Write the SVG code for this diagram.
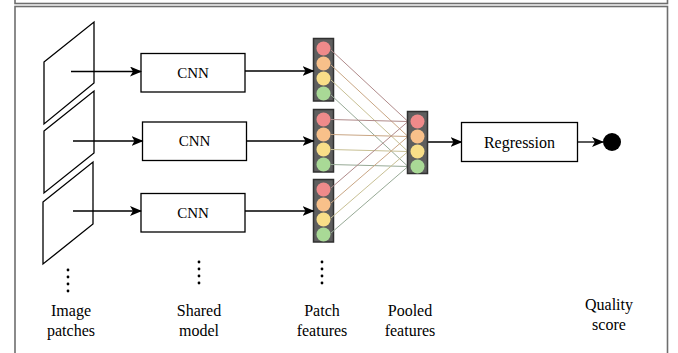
<svg xmlns="http://www.w3.org/2000/svg" width="678" height="353" viewBox="0 0 678 353">
<defs>
<marker id="ah" viewBox="0 0 12 10" refX="11" refY="5" markerWidth="12" markerHeight="10" markerUnits="userSpaceOnUse" orient="auto">
<path d="M0,0 L12,5 L0,10 L3,5 Z" fill="#000"/>
</marker>
</defs>
<style>
.frame{fill:none;stroke:#6e6e6e;stroke-width:1.6}
.patch{fill:#fff;stroke:#000;stroke-width:1.3}
.box{fill:#fff;stroke:#000;stroke-width:1.3}
.arr{fill:none;stroke:#000;stroke-width:1.3;marker-end:url(#ah)}
.t{font-family:"Liberation Serif","Times New Roman",serif;font-size:16px;fill:#000;text-anchor:middle}
.tc{font-family:"Liberation Serif","Times New Roman",serif;font-size:15px;fill:#000;text-anchor:middle}
.stack{fill:#5e5e5e;stroke:#303030;stroke-width:1.5}
.cr{fill:#ef8a8a}.co{fill:#f8c08a}.cy{fill:#f8de88}.cg{fill:#a9d996}
.lr{stroke:#b08a8a;stroke-width:1;fill:none}
.lo{stroke:#c9a684;stroke-width:1;fill:none}
.ly{stroke:#c8c094;stroke-width:1;fill:none}
.lg{stroke:#97aa96;stroke-width:1;fill:none}
.dot{fill:#000}
</style>
<g id="frame">
<rect class="frame" x="15" y="-12" width="652.5" height="15.5"/>
<rect class="frame" x="15" y="6.5" width="652.5" height="360"/>
</g>
<g id="patch1"><polygon class="patch" points="44,62 94,22 94,83 44,124"/></g>
<g id="patch2"><polygon class="patch" points="44,131 94,91 94,153 44,193"/></g>
<g id="patch3"><polygon class="patch" points="43,202 93,162 93,224 43,264"/></g>
<g id="cnn1"><rect class="box" x="141" y="53.5" width="104" height="38.5"/><text class="tc" x="193" y="77.5">CNN</text></g>
<g id="cnn2"><rect class="box" x="142.5" y="122" width="104" height="38.5"/><text class="tc" x="194.5" y="146">CNN</text></g>
<g id="cnn3"><rect class="box" x="141" y="193.5" width="104" height="38.5"/><text class="tc" x="193" y="217.5">CNN</text></g>
<g id="features1">
<rect class="stack" x="313.5" y="38.5" width="20" height="62.5"/>
<circle class="cr" cx="323.5" cy="48.5" r="7"/><circle class="co" cx="323.5" cy="63.5" r="7"/><circle class="cy" cx="323.5" cy="78.5" r="7"/><circle class="cg" cx="323.5" cy="93.5" r="7"/>
</g>
<g id="features2">
<rect class="stack" x="313.5" y="109.5" width="20" height="62.5"/>
<circle class="cr" cx="323.5" cy="119.5" r="7"/><circle class="co" cx="323.5" cy="134.5" r="7"/><circle class="cy" cx="323.5" cy="149.5" r="7"/><circle class="cg" cx="323.5" cy="164.5" r="7"/>
</g>
<g id="features3">
<rect class="stack" x="313.5" y="179.5" width="20" height="62.5"/>
<circle class="cr" cx="323.5" cy="189.5" r="7"/><circle class="co" cx="323.5" cy="204.5" r="7"/><circle class="cy" cx="323.5" cy="219.5" r="7"/><circle class="cg" cx="323.5" cy="234.5" r="7"/>
</g>
<g id="connectors">
<line class="arr" x1="71" y1="71.5" x2="141" y2="71.5"/>
<line class="arr" x1="73" y1="141" x2="142.5" y2="141"/>
<line class="arr" x1="73" y1="211" x2="141" y2="211"/>
<line class="arr" x1="245" y1="71" x2="313.5" y2="71"/>
<line class="arr" x1="246.5" y1="141" x2="313.5" y2="141"/>
<line class="arr" x1="245" y1="211" x2="313.5" y2="211"/>
<line class="lr" x1="331" y1="50" x2="408" y2="121.5"/>
<line class="lo" x1="331" y1="65" x2="408" y2="136.5"/>
<line class="ly" x1="331" y1="80" x2="408" y2="151.5"/>
<line class="lg" x1="331" y1="95" x2="408" y2="166.5"/>
<line class="lr" x1="331" y1="119.5" x2="408" y2="121.5"/>
<line class="lo" x1="331" y1="134.5" x2="408" y2="136.5"/>
<line class="ly" x1="331" y1="149.5" x2="408" y2="151.5"/>
<line class="lg" x1="331" y1="164.5" x2="408" y2="166.5"/>
<line class="lr" x1="331" y1="188" x2="408" y2="121.5"/>
<line class="lo" x1="331" y1="203" x2="408" y2="136.5"/>
<line class="ly" x1="331" y1="218" x2="408" y2="151.5"/>
<line class="lg" x1="331" y1="233" x2="408" y2="166.5"/>
<line class="arr" x1="427.5" y1="142" x2="461.5" y2="142"/>
<line class="arr" x1="577.5" y1="142" x2="603" y2="142"/>
</g>
<g id="pooled">
<rect class="stack" x="407.5" y="111.5" width="20" height="62"/>
<circle class="cr" cx="417.5" cy="121.5" r="7"/><circle class="co" cx="417.5" cy="136.5" r="7"/><circle class="cy" cx="417.5" cy="151.5" r="7"/><circle class="cg" cx="417.5" cy="166.5" r="7"/>
</g>
<g id="regression"><rect class="box" x="461.5" y="122.5" width="116" height="39"/><text class="t" x="519.5" y="147.5">Regression</text></g>
<g id="score"><circle class="dot" cx="612" cy="142" r="9"/></g>
<g id="ellipsis1"><circle class="dot" cx="68" cy="270" r="1.4"/><circle class="dot" cx="68" cy="277" r="1.4"/><circle class="dot" cx="68" cy="284" r="1.4"/><circle class="dot" cx="68" cy="291" r="1.4"/></g>
<g id="ellipsis2"><circle class="dot" cx="199" cy="262" r="1.4"/><circle class="dot" cx="199" cy="269" r="1.4"/><circle class="dot" cx="199" cy="276" r="1.4"/><circle class="dot" cx="199" cy="283" r="1.4"/></g>
<g id="ellipsis3"><circle class="dot" cx="322" cy="262" r="1.4"/><circle class="dot" cx="322" cy="269" r="1.4"/><circle class="dot" cx="322" cy="276" r="1.4"/><circle class="dot" cx="322" cy="283" r="1.4"/></g>
<g id="labels">
<text class="t" x="71" y="316">Image</text><text class="t" x="71" y="336">patches</text>
<text class="t" x="199" y="316">Shared</text><text class="t" x="199" y="336">model</text>
<text class="t" x="322" y="316">Patch</text><text class="t" x="322" y="336">features</text>
<text class="t" x="410" y="316">Pooled</text><text class="t" x="410" y="336">features</text>
<text class="t" x="609" y="310">Quality</text><text class="t" x="609" y="330">score</text>
</g>
</svg>
